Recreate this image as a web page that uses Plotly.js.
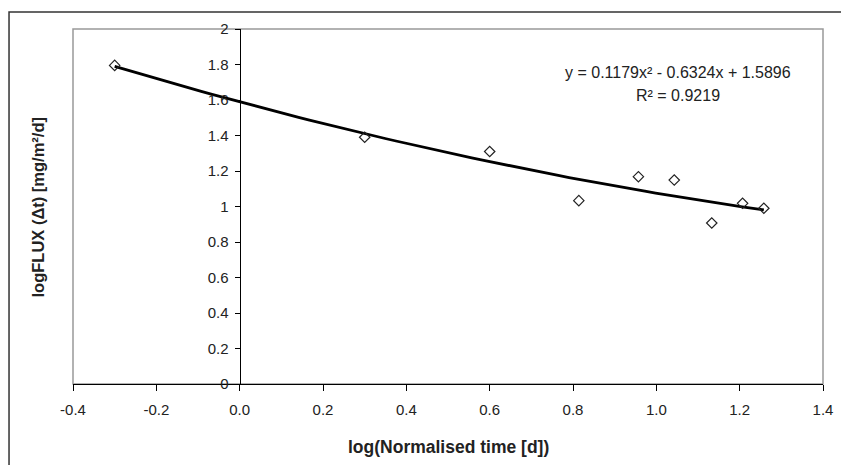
<!DOCTYPE html>
<html>
<head>
<meta charset="utf-8">
<script src="https://cdn.plot.ly/plotly-3.0.1.min.js"></script>
<style>html,body{margin:0;padding:0;background:#fff;}#chart{width:841px;height:465px;}</style>
</head>
<body>
<div id="chart"></div>
<script>
// Observed points
const logTime = [-0.30, 0.30, 0.60, 0.814, 0.957, 1.043, 1.133, 1.207, 1.258];
const logFlux = [1.795, 1.39, 1.31, 1.033, 1.168, 1.149, 0.907, 1.018, 0.990];
// Polynomial trendline coefficients as printed on the chart (a x^2 + b x + c)
const trendCoef = [0.1179, -0.6324, 1.5896];
const trendLabel = ["y = 0.1179x² - 0.6324x + 1.5896", "R² = 0.9219"];
const xTicks = [-0.4, -0.2, 0.0, 0.2, 0.4, 0.6, 0.8, 1.0, 1.2, 1.4];
const xTickText = ["-0.4", "-0.2", "0.0", "0.2", "0.4", "0.6", "0.8", "1.0", "1.2", "1.4"];
const yTicks = [0, 0.2, 0.4, 0.6, 0.8, 1, 1.2, 1.4, 1.6, 1.8, 2];
const xTitle = "log(Normalised time [d])";
const yTitle = "logFLUX (Δt) [mg/m²/d]";

// trendline drawn over the data range
const xMin = Math.min(...logTime), xMax = Math.max(...logTime);
const tx = [], ty = [];
for (let i = 0; i <= 60; i++) {
  const x = xMin + (xMax - xMin) * i / 60;
  tx.push(x);
  ty.push(trendCoef[0] * x * x + trendCoef[1] * x + trendCoef[2]);
}

const font = "Liberation Sans, Arial, sans-serif";
const data = [
  {x: tx, y: ty, mode: "lines", type: "scatter", line: {color: "#000", width: 2.8}, hoverinfo: "skip", showlegend: false},
  {x: logTime, y: logFlux, mode: "markers", type: "scatter",
   marker: {symbol: "diamond-open", size: 8, color: "#222", line: {width: 1.2, color: "#222"}}, showlegend: false}
];

const layout = {
  width: 841, height: 465,
  margin: {l: 73, r: 18, t: 29, b: 81},
  paper_bgcolor: "#fff", plot_bgcolor: "#fff",
  font: {family: font, size: 14, color: "#222"},
  xaxis: {
    range: [-0.4, 1.4], tickvals: xTicks, ticktext: xTickText,
    ticks: "outside", ticklen: 6, tickcolor: "#000", tickwidth: 1,
    ticklabelstandoff: 6,
    showline: true, linecolor: "#000", linewidth: 1.3,
    showgrid: false, zeroline: false,
    tickfont: {family: font, size: 15, color: "#222"}
  },
  yaxis: {
    range: [0, 2], tickvals: yTicks,
    anchor: "free", position: 0.2222,
    ticks: "outside", ticklen: 5, tickcolor: "#000", tickwidth: 1,
    ticklabelstandoff: 3,
    showline: true, linecolor: "#000", linewidth: 1.3,
    showgrid: false, zeroline: false,
    tickfont: {family: font, size: 15, color: "#222"}
  },
  shapes: [
    {type: "rect", xref: "paper", yref: "paper", x0: 0, x1: 1, y0: 0, y1: 1, line: {color: "#999", width: 1.5}, layer: "below"},
    {type: "rect", xref: "paper", yref: "paper", x0: -0.0853, x1: 1.1, y0: -0.3, y1: 1.0479, line: {color: "#333", width: 1.5}, layer: "below"}
  ],
  annotations: [
    {xref: "paper", yref: "paper", x: 0.5, y: -0.178, text: xTitle, showarrow: false,
     font: {family: font, size: 17.5, color: "#222", weight: "bold"}, xanchor: "center", yanchor: "middle"},
    {xref: "paper", yref: "paper", x: -0.0467, y: 0.5, text: yTitle, textangle: -90, showarrow: false,
     font: {family: font, size: 16.5, color: "#222", weight: "bold"}, xanchor: "center", yanchor: "middle"},
    {xref: "paper", yref: "paper", x: 0.8067, y: 0.877, text: trendLabel[0], showarrow: false,
     font: {family: font, size: 16, color: "#222"}, xanchor: "center", yanchor: "middle"},
    {xref: "paper", yref: "paper", x: 0.8067, y: 0.814, text: trendLabel[1], showarrow: false,
     font: {family: font, size: 16, color: "#222"}, xanchor: "center", yanchor: "middle"}
  ]
};

Plotly.newPlot("chart", data, layout, {displayModeBar: false, staticPlot: true});
</script>
</body>
</html>
